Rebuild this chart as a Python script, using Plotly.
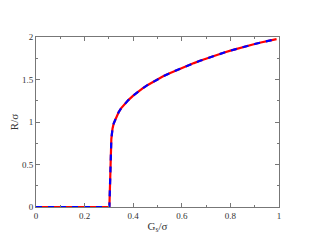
import plotly.graph_objects as go

gs = [0.0, 0.30, 0.302, 0.31, 0.312, 0.315, 0.32, 0.33, 0.34, 0.35, 0.36, 0.37,
      0.38, 0.40, 0.42, 0.44, 0.46, 0.48, 0.50, 0.525, 0.55, 0.575, 0.60, 0.625,
      0.65, 0.675, 0.70, 0.725, 0.75, 0.775, 0.80, 0.825, 0.85, 0.875, 0.90, 0.925,
      0.95, 0.975, 0.99]
r_red = [0.0, 0.0, 0.0, 0.80, 0.87, 0.925, 0.985, 1.06, 1.115, 1.16, 1.196, 1.228,
         1.258, 1.31, 1.357, 1.398, 1.436, 1.471, 1.503, 1.540, 1.574, 1.606, 1.636, 1.665,
         1.693, 1.720, 1.746, 1.771, 1.795, 1.818, 1.840, 1.861, 1.881, 1.900, 1.918, 1.935,
         1.951, 1.966, 1.975]
r_blue = list(r_red)

font = "Liberation Serif, Times New Roman, serif"
axcol = "#777777"

fig = go.Figure()
fig.add_trace(go.Scatter(x=gs, y=r_red, mode="lines",
                         line=dict(color="#ff0000", width=2.2), showlegend=False))
fig.add_trace(go.Scatter(x=gs, y=r_blue, mode="lines",
                         line=dict(color="#0000ff", width=2.2, dash="6px,6px"), showlegend=False))

common = dict(showgrid=False, zeroline=False, showline=True, linecolor=axcol, linewidth=1,
              mirror="allticks", ticks="inside", ticklen=4, tickcolor=axcol, automargin=False,
              tickfont=dict(family=font, size=9, color="#333333"))
fig.update_xaxes(range=[0, 1], tickvals=[0, 0.2, 0.4, 0.6, 0.8, 1],
                 ticktext=["0", "0.2", "0.4", "0.6", "0.8", "1"],
                 minor=dict(ticks="inside", ticklen=2, tickcolor=axcol, dtick=0.1),
                 title=dict(text="G<sub>s</sub>/σ", font=dict(family=font, size=11, color="#333333"), standoff=2),
                 **common)
fig.update_yaxes(range=[0, 2], tickvals=[0, 0.5, 1, 1.5, 2],
                 ticktext=["0", "0.5", "1", "1.5", "2"],
                 minor=dict(ticks="inside", ticklen=2, tickcolor=axcol, dtick=0.25),
                 title=dict(text="R/σ", font=dict(family=font, size=11, color="#333333"), standoff=4),
                 **common)
fig.update_layout(width=306, height=235, margin=dict(l=28, r=35, t=29, b=36),
                  paper_bgcolor="white", plot_bgcolor="white")
fig.write_html("out.html")
